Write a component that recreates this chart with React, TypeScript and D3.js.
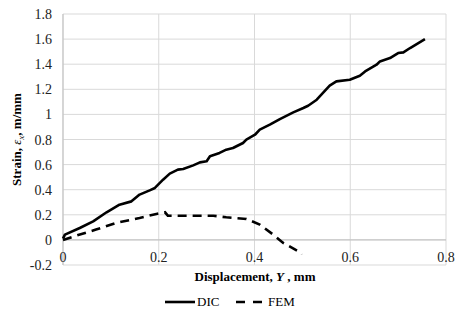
import React, { useEffect, useRef } from 'react';
import * as d3 from 'd3';

// DIC measurement (displacement mm, strain m/mm)
const dicX = [0, 0.004, 0.035, 0.063, 0.091, 0.118, 0.143, 0.160, 0.181, 0.192, 0.209, 0.223, 0.240, 0.251, 0.272, 0.286, 0.300, 0.307, 0.327, 0.341, 0.355, 0.376, 0.383, 0.401, 0.411, 0.432, 0.453, 0.481, 0.502, 0.512, 0.530, 0.557, 0.571, 0.599, 0.620, 0.631, 0.655, 0.662, 0.683, 0.700, 0.711, 0.725, 0.756];
const dicY = [0.01, 0.042, 0.095, 0.148, 0.22, 0.281, 0.307, 0.361, 0.395, 0.414, 0.48, 0.528, 0.56, 0.565, 0.594, 0.618, 0.626, 0.666, 0.693, 0.719, 0.732, 0.772, 0.799, 0.838, 0.878, 0.918, 0.963, 1.016, 1.051, 1.069, 1.117, 1.229, 1.263, 1.276, 1.308, 1.342, 1.396, 1.422, 1.449, 1.489, 1.494, 1.529, 1.6];

// FEM prediction
const femX = [0, 0.028, 0.069, 0.111, 0.160, 0.195, 0.213, 0.219, 0.265, 0.314, 0.341, 0.383, 0.411, 0.439, 0.46, 0.495, 0.498];
const femY = [0, 0.034, 0.082, 0.135, 0.175, 0.207, 0.22, 0.193, 0.193, 0.193, 0.18, 0.167, 0.122, 0.042, -0.024, -0.099, -0.117];

const xTicks = [0, 0.2, 0.4, 0.6, 0.8];
const yTicks = [-0.2, 0, 0.2, 0.4, 0.6, 0.8, 1, 1.2, 1.4, 1.6, 1.8];

const W = 463;
const H = 320;
const margin = { top: 14, right: 17, bottom: 55, left: 63 };
const grid = '#d9d9d9';
const FONT = 'Liberation Serif';

export default function App() {
  const svgRef = useRef<SVGSVGElement>(null);

  useEffect(() => {
    const svg = d3.select(svgRef.current);
    svg.selectAll('*').remove();

    const x = d3.scaleLinear().domain([0, 0.8]).range([margin.left, W - margin.right]);
    const y = d3.scaleLinear().domain([-0.2, 1.8]).range([H - margin.bottom, margin.top]);
    const x0 = x(0);
    const y0 = y(0);
    const fmt = (t: number) => String(+t.toFixed(1));

    // grid
    svg.selectAll('.gy').data(yTicks).enter().append('line')
      .attr('x1', x(0)).attr('x2', x(0.8))
      .attr('y1', d => y(d)).attr('y2', d => y(d))
      .attr('stroke', grid);
    svg.selectAll('.gx').data(xTicks).enter().append('line')
      .attr('x1', d => x(d)).attr('x2', d => x(d))
      .attr('y1', y(-0.2)).attr('y2', y(1.8))
      .attr('stroke', grid);
    svg.append('line').attr('x1', x0).attr('x2', x0).attr('y1', y(-0.2)).attr('y2', y(1.8)).attr('stroke', '#bfbfbf');
    svg.append('line').attr('x1', x(0)).attr('x2', x(0.8)).attr('y1', y0).attr('y2', y0).attr('stroke', '#bfbfbf');

    // tick labels
    svg.selectAll('.ly').data(yTicks).enter().append('text')
      .attr('x', x0 - 11).attr('y', d => y(d) + 5)
      .attr('text-anchor', 'end').attr('font-size', 14).attr('fill', '#222')
      .style('font-family', FONT)
      .text(d => fmt(d));
    svg.selectAll('.lx').data(xTicks).enter().append('text')
      .attr('x', d => x(d)).attr('y', y0 + 22)
      .attr('text-anchor', 'middle').attr('font-size', 14).attr('fill', '#222')
      .style('font-family', FONT)
      .text(d => fmt(d));

    // series
    const line = d3.line<[number, number]>().x(d => x(d[0])).y(d => y(d[1]));
    svg.append('path')
      .attr('d', line(dicX.map((v, i) => [v, dicY[i]] as [number, number])))
      .attr('fill', 'none').attr('stroke', '#000').attr('stroke-width', 2.6).attr('stroke-linejoin', 'round');
    svg.append('path')
      .attr('d', line(femX.map((v, i) => [v, femY[i]] as [number, number])))
      .attr('fill', 'none').attr('stroke', '#000').attr('stroke-width', 2.6).attr('stroke-dasharray', '9,6');

    // axis titles
    const xt = svg.append('text')
      .attr('x', 255).attr('y', 281).attr('text-anchor', 'middle')
      .attr('font-size', 13).attr('font-weight', 'bold').style('font-family', FONT);
    xt.append('tspan').text('Displacement, ');
    xt.append('tspan').attr('font-style', 'italic').text('Y');
    xt.append('tspan').text(' , mm');

    const yt = svg.append('text')
      .attr('transform', `translate(21,${(y(-0.2) + y(1.8)) / 2}) rotate(-90)`)
      .attr('text-anchor', 'middle')
      .attr('font-size', 13).attr('font-weight', 'bold').style('font-family', FONT);
    yt.append('tspan').text('Strain, ');
    yt.append('tspan').attr('font-style', 'italic').attr('font-weight', 'normal').text('ε');
    yt.append('tspan').attr('font-style', 'italic').attr('font-weight', 'normal').attr('font-size', 9).attr('dy', 3).text('x');
    yt.append('tspan').attr('dy', -3).text(', m/mm');

    // legend
    svg.append('line').attr('x1', 165).attr('x2', 195).attr('y1', 302).attr('y2', 302)
      .attr('stroke', '#000').attr('stroke-width', 2.6);
    svg.append('text').attr('x', 197).attr('y', 306).attr('font-size', 13).style('font-family', FONT).text('DIC');
    svg.append('line').attr('x1', 236).attr('x2', 266).attr('y1', 302).attr('y2', 302)
      .attr('stroke', '#000').attr('stroke-width', 2.6).attr('stroke-dasharray', '9,8');
    svg.append('text').attr('x', 268).attr('y', 306).attr('font-size', 13).style('font-family', FONT).text('FEM');
  }, []);

  return (
    <svg ref={svgRef} width={W} height={H} style={{ position: 'absolute', left: 0, top: 0, background: '#fff' }} />
  );
}
